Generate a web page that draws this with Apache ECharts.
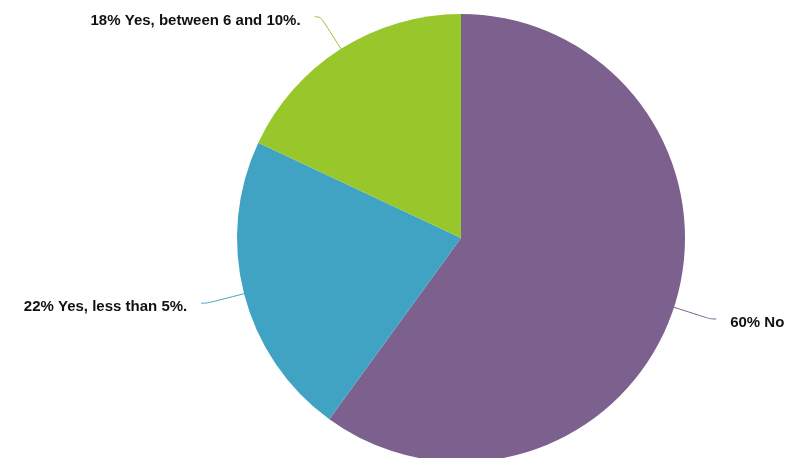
<!DOCTYPE html>
<html><head><meta charset="utf-8">
<script src="https://cdn.jsdelivr.net/npm/echarts@6/dist/echarts.min.js"></script>
<style>html,body{margin:0;padding:0;background:#fff}#c{width:790px;height:458px}</style>
</head><body><div id="c"></div>
<script>
const categories = ['No', 'Yes, less than 5%.', 'Yes, between 6 and 10%.'];
const values = [60, 22, 18];
const colors = ['#7c608e', '#41a3c3', '#97c72a'];

const chart = echarts.init(document.getElementById('c'), null, {renderer: 'canvas'});
chart.setOption({
  animation: false,
  series: [{
    type: 'pie',
    center: [461, 238],
    radius: 224,
    startAngle: 90,
    clockwise: true,
    data: categories.map((c, i) => ({name: c, value: values[i], itemStyle: {color: colors[i]}})),
    label: {
      show: true,
      formatter: p => '{t|' + p.value + '% ' + p.name + '}',
      rich: {
        t: {
          fontFamily: 'Liberation Sans, Arial, sans-serif',
          fontWeight: 'bold',
          fontSize: 15,
          color: '#111',
          padding: [8, 0, 0, 0]
        }
      },
      overflow: 'none',
      edgeDistance: 0,
      distanceToLabelLine: 14
    },
    labelLine: {
      show: true,
      length: 38,
      length2: 6,
      smooth: 0.4,
      lineStyle: {width: 1}
    },
    emphasis: {disabled: true}
  }]
});
</script></body></html>
